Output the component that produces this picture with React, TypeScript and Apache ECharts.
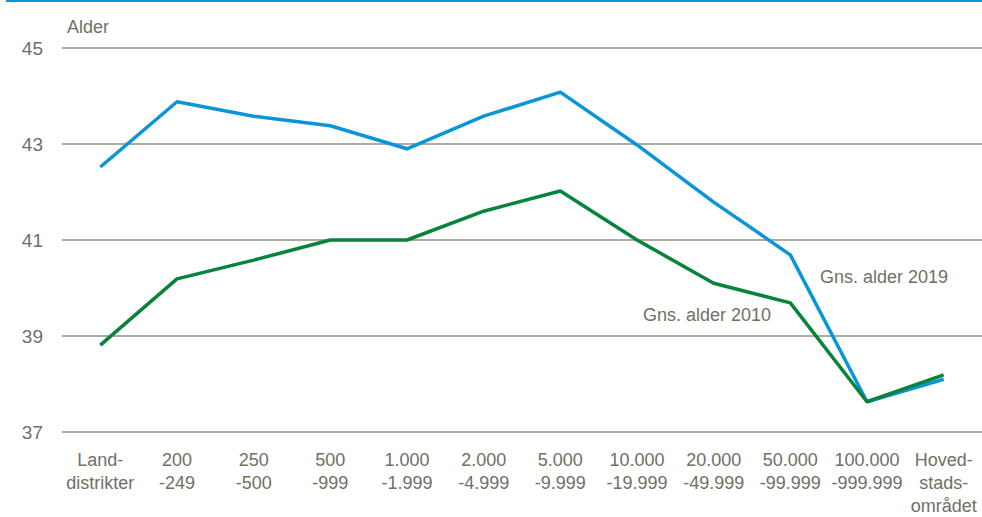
import React, { useEffect, useRef } from "react";
import * as echarts from "echarts";

const categories = [
  "Land-\ndistrikter",
  "200\n-249",
  "250\n-500",
  "500\n-999",
  "1.000\n-1.999",
  "2.000\n-4.999",
  "5.000\n-9.999",
  "10.000\n-19.999",
  "20.000\n-49.999",
  "50.000\n-99.999",
  "100.000\n-999.999",
  "Hoved-\nstads-\nområdet",
];

const alder2019 = [42.52, 43.88, 43.58, 43.38, 42.9, 43.58, 44.08, 42.98, 41.79, 40.69, 37.63, 38.1];
const alder2010 = [38.81, 40.19, 40.58, 41.0, 41.0, 41.6, 42.02, 41.0, 40.1, 39.69, 37.63, 38.19];

const yTicks = { min: 37, max: 45, interval: 2 };

const FONT = "'Liberation Sans Narrow', 'Arial Narrow', 'Liberation Sans', sans-serif";
const TEXT = "#707064";
const BLUE = "#0a95d9";
const GREEN = "#08833c";

export default function App() {
  const ref = useRef<HTMLDivElement>(null);
  useEffect(() => {
    if (!ref.current) return;
    const chart = echarts.init(ref.current, undefined, { renderer: "svg" });
    chart.setOption({
      animation: false,
      backgroundColor: "#ffffff",
      textStyle: { fontFamily: FONT },
      grid: { left: 62, right: 0, top: 48, bottom: 85, containLabel: false },
      xAxis: {
        type: "category",
        data: categories,
        boundaryGap: true,
        axisLine: { show: false },
        axisTick: { show: false },
        axisLabel: {
          color: TEXT,
          fontSize: 18,
          lineHeight: 23,
          margin: 16,
          interval: 0,
          fontFamily: FONT,
          verticalAlign: "top",
        },
      },
      yAxis: {
        type: "value",
        min: yTicks.min,
        max: yTicks.max,
        interval: yTicks.interval,
        axisLine: { show: false },
        axisTick: { show: false },
        splitLine: { lineStyle: { color: "#aeab9c", width: 2 } },
        axisLabel: { color: TEXT, fontSize: 19, margin: 19, fontFamily: FONT },
      },
      graphic: [
        {
          type: "rect",
          shape: { x: 6, y: 0, width: 976, height: 2 },
          style: { fill: BLUE },
        },
        {
          type: "text",
          x: 67,
          y: 27,
          style: { text: "Alder", fill: TEXT, fontSize: 18, fontFamily: FONT, verticalAlign: "middle" },
        },
        {
          type: "text",
          x: 820,
          y: 277,
          style: { text: "Gns. alder 2019", fill: TEXT, fontSize: 18, fontFamily: FONT, verticalAlign: "middle" },
        },
        {
          type: "text",
          x: 643,
          y: 315,
          style: { text: "Gns. alder 2010", fill: TEXT, fontSize: 18, fontFamily: FONT, verticalAlign: "middle" },
        },
      ],
      series: [
        {
          name: "Gns. alder 2019",
          type: "line",
          data: alder2019,
          symbol: "none",
          lineStyle: { color: BLUE, width: 3.5 },
          itemStyle: { color: BLUE },
        },
        {
          name: "Gns. alder 2010",
          type: "line",
          data: alder2010,
          symbol: "none",
          lineStyle: { color: GREEN, width: 3.5 },
          itemStyle: { color: GREEN },
        },
      ],
    });
    return () => chart.dispose();
  }, []);
  return (
    <div
      ref={ref}
      style={{ position: "fixed", left: 0, top: 0, width: 982, height: 517, background: "#fff" }}
    />
  );
}
